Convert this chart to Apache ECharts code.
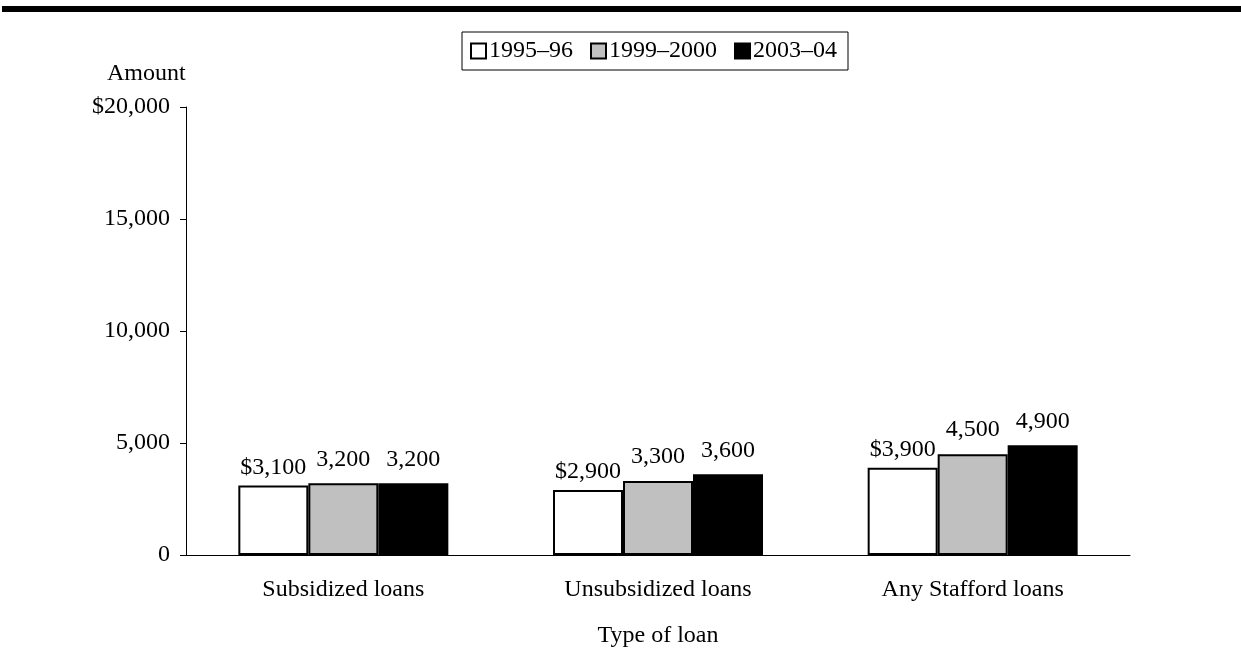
<!DOCTYPE html>
<html>
<head>
<meta charset="utf-8">
<script src="https://cdn.jsdelivr.net/npm/echarts@6/dist/echarts.min.js"></script>
<style>html,body{margin:0;padding:0;background:#fff;}#c{width:1241px;height:665px;}</style>
</head>
<body>
<div id="c"></div>
<script>
const categories = ['Subsidized loans', 'Unsubsidized loans', 'Any Stafford loans'];
const seriesNames = ['1995\u201396', '1999\u20132000', '2003\u201304'];
const v1995 = [3100, 2900, 3900];
const v1999 = [3200, 3300, 4500];
const v2003 = [3200, 3600, 4900];
const colors = ['#ffffff', '#c0c0c0', '#000000'];
const yTicks = [0, 5000, 10000, 15000, 20000];

const FONT = '"Liberation Serif", "Times New Roman", serif';
const FS = 24;
const fmt = n => n.toLocaleString('en-US');

const chart = echarts.init(document.getElementById('c'));
const data = [v1995, v1999, v2003];
chart.setOption({
  backgroundColor: '#fff',
  animation: false,
  textStyle: { fontFamily: FONT, color: '#000' },
  graphic: [
    { type: 'rect', shape: { x: 2, y: 6, width: 1239, height: 6 }, style: { fill: '#000' } }
  ],
  title: {
    text: 'Amount', left: 107, top: 62, padding: 0,
    textStyle: { fontFamily: FONT, fontSize: FS, fontWeight: 'normal', color: '#000' }
  },
  legend: {
    data: seriesNames,
    left: 462, top: 32,
    orient: 'horizontal',
    icon: 'rect',
    itemWidth: 15, itemHeight: 15, itemGap: 17,
    borderColor: '#000', borderWidth: 1, borderRadius: 0,
    padding: [7, 11, 7, 8],
    textStyle: { fontFamily: FONT, fontSize: FS, color: '#000', padding: [0, 0, 0, -2] }
  },
  grid: { left: 186, right: 111, top: 107, bottom: 110, containLabel: false },
  xAxis: {
    type: 'category', data: categories,
    name: 'Type of loan', nameLocation: 'middle', nameGap: 69,
    nameTextStyle: { fontFamily: FONT, fontSize: FS, color: '#000' },
    axisLine: { lineStyle: { color: '#000', width: 1 } },
    axisTick: { show: false },
    axisLabel: { fontFamily: FONT, fontSize: FS, color: '#000', margin: 23 }
  },
  yAxis: {
    type: 'value', min: yTicks[0], max: yTicks[yTicks.length - 1], interval: yTicks[1] - yTicks[0],
    axisLine: { show: true, lineStyle: { color: '#000', width: 1 } },
    axisTick: { show: true, inside: false, length: 6, lineStyle: { color: '#000' } },
    splitLine: { show: false },
    axisLabel: {
      fontFamily: FONT, fontSize: FS, color: '#000', margin: 16,
      formatter: v => v === 20000 ? '$' + fmt(v) : fmt(v)
    }
  },
  series: seriesNames.map((name, i) => ({
    name, type: 'bar', data: data[i],
    barWidth: 70, barGap: '0%',
    itemStyle: { color: colors[i], borderColor: '#000', borderWidth: 2 },
    label: {
      show: true, position: 'top', distance: i === 0 ? 6 : 12,
      fontFamily: FONT, fontSize: FS, color: '#000',
      formatter: p => (i === 0 ? '$' : '') + fmt(p.value)
    }
  }))
});
</script>
</body>
</html>
